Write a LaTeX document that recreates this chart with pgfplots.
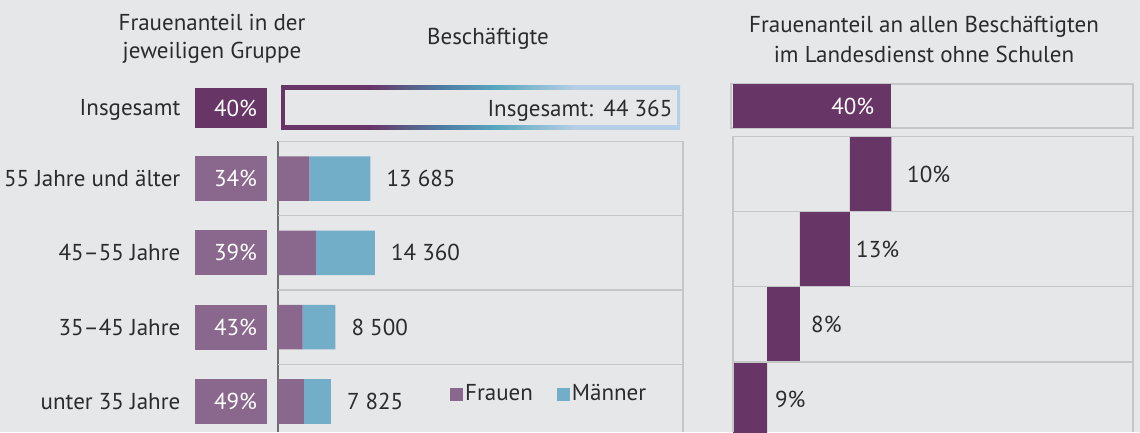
\documentclass[border=0pt]{standalone}
\usepackage{fontspec}
\setmainfont{PT Sans}
\usepackage{pgfplots}
\pgfplotsset{compat=1.18}
\definecolor{bg}{HTML}{E6E7E9}
\definecolor{framegray}{HTML}{C5C6C8}
\definecolor{darkline}{HTML}{6F6F71}
\definecolor{dpurple}{HTML}{683567}
\definecolor{lpurple}{HTML}{8A678C}
\definecolor{mteal}{HTML}{72AEC8}
\definecolor{textc}{HTML}{2B2B2B}
\definecolor{sblue}{HTML}{4C7BA3}
\definecolor{steal}{HTML}{5AA6C0}
\definecolor{slight}{HTML}{B5D0E6}
\pgfdeclarehorizontalshading{insg}{100bp}{color(0bp)=(dpurple); color(36bp)=(dpurple); color(45bp)=(sblue); color(52bp)=(steal); color(62bp)=(slight); color(100bp)=(slight)}
\begin{document}
\fontsize{23}{28}\selectfont\color{textc}%
\begin{tikzpicture}
\path[use as bounding box] (0pt,0pt) rectangle (1140pt,432pt);
\fill[bg] (0pt,0pt) rectangle (1140pt,432pt);
% titles
\node[anchor=base, inner sep=0pt] at (212pt,401pt) {Frauenanteil in der};
\node[anchor=base, inner sep=0pt] at (212pt,373.5pt) {jeweiligen Gruppe};
\node[anchor=base, inner sep=0pt] at (488pt,387pt) {Beschäftigte};
\node[anchor=base, inner sep=0pt] at (924pt,399pt) {Frauenanteil an allen Beschäftigten};
\node[anchor=base, inner sep=0pt] at (924pt,369pt) {im Landesdienst ohne Schulen};
% total box with gradient border
\shade[shading=insg] (281pt,303pt) rectangle (680pt,346pt);
\fill[bg] (284.5pt,306.8pt) rectangle (676.5pt,342.2pt);
\node[anchor=base east, inner sep=0pt] at (672.5pt,316pt) {Insgesamt:\hspace{0.45em}44 365};

% left panel: bars
\begin{axis}[
  at={(278pt,0pt)}, anchor=south west, scale only axis,
  width=405pt, height=363pt,
  xmin=0, xmax=60000, ymin=-0.4105, ymax=4.475,
  axis line style={draw=none}, major tick length=0pt, xtick=\empty,
  ytick={0,1,2,3,3.957},
  yticklabels={unter 35 Jahre, 35–45 Jahre, 45–55 Jahre, 55 Jahre und älter, Insgesamt},
  yticklabel style={anchor=base east, inner sep=0pt, xshift=-97.5pt, yshift=-8pt, text=textc},
  xbar stacked, bar width=0.6, clip=false,
  legend style={draw=none, fill=none, inner sep=0pt, at={(0.4247,0.104)}, anchor=west,
    legend columns=2, /tikz/every even column/.append style={column sep=22pt}, text=textc},
  legend image code/.code={\fill[#1] (0pt,-6.5pt) rectangle (13pt,6.5pt);},
]
\draw[framegray, line width=1.3pt] (axis cs:0,3.5) -- (axis cs:60000,3.5) -- (axis cs:60000,-0.4105);
\draw[framegray, line width=1.3pt] (axis cs:0,2.5) -- (axis cs:60000,2.5);
\draw[framegray, line width=1.3pt] (axis cs:0,1.5) -- (axis cs:60000,1.5);
\draw[framegray, line width=1.3pt] (axis cs:0,0.5) -- (axis cs:60000,0.5);
\addplot[fill=lpurple, draw=none] coordinates {(3834,0) (3655,1) (5600,2) (4653,3)};
\addplot[fill=mteal, draw=none] coordinates {(3991,0) (4845,1) (8760,2) (9032,3)};
\legend{Frauen, Männer}
\node[anchor=west, inner sep=0pt, xshift=16pt] at (axis cs:7825,0) {7 825};
\node[anchor=west, inner sep=0pt, xshift=16pt] at (axis cs:8500,1) {8 500};
\node[anchor=west, inner sep=0pt, xshift=16pt] at (axis cs:14360,2) {14 360};
\node[anchor=west, inner sep=0pt, xshift=16pt] at (axis cs:13685,3) {13 685};
\draw[darkline, line width=1.5pt] (axis cs:0,3.5) -- (axis cs:0,-0.4105);
\end{axis}

% left panel: share boxes
\begin{axis}[
  at={(278pt,0pt)}, anchor=south west, scale only axis,
  width=405pt, height=363pt,
  xmin=0, xmax=60000, ymin=-0.4105, ymax=4.475,
  hide axis, clip=false,
]
\addplot[draw=none, nodes near coords, point meta=explicit symbolic,
  every node near coord/.append style={anchor=center, fill=lpurple, text=white,
    inner xsep=10pt, inner ysep=0pt, text width=52pt, align=right, minimum height=45pt}]
  coordinates {(-6963,0)[49\%] (-6963,1)[43\%] (-6963,2)[39\%] (-6963,3)[34\%]};
\addplot[draw=none, nodes near coords, point meta=explicit symbolic,
  every node near coord/.append style={anchor=center, fill=dpurple, text=white,
    inner xsep=10pt, inner ysep=0pt, text width=52pt, align=right, minimum height=40pt}]
  coordinates {(-6963,3.950)[40\%]};
\end{axis}

% right panel: Insgesamt bar
\begin{axis}[
  at={(731pt,304pt)}, anchor=south west, scale only axis,
  width=402pt, height=44pt,
  xmin=-0.505, xmax=101, ymin=-0.5, ymax=0.5,
  axis line style={framegray, line width=1.3pt}, xtick=\empty, ytick=\empty,
  xbar, bar width=1, clip=false,
]
\addplot[fill=dpurple, draw=none, nodes near coords, point meta=explicit symbolic,
  every node near coord/.append style={anchor=east, inner sep=0pt, xshift=-17pt, text=white}]
  coordinates {(40,0)[40\%]};
\end{axis}

% right panel: floating bars
\begin{axis}[
  at={(733pt,0pt)}, anchor=south west, scale only axis,
  width=400pt, height=348pt,
  xmin=0, xmax=101, ymin=-0.4333, ymax=4.2067,
  hide axis, clip=false,
  xbar stacked, bar width=1,
]
\draw[framegray, line width=1.3pt] (axis cs:0,-0.4333) -- (axis cs:0,3.5) -- (axis cs:101,3.5) -- (axis cs:101,-0.4333);
\draw[framegray, line width=1.3pt] (axis cs:0,2.5) -- (axis cs:101,2.5);
\draw[framegray, line width=1.3pt] (axis cs:0,1.5) -- (axis cs:101,1.5);
\draw[framegray, line width=1.3pt] (axis cs:0,0.5) -- (axis cs:101,0.5);
\addplot[draw=none, fill=none] coordinates {(0,0) (8.6,1) (16.9,2) (29.5,3)};
\addplot[fill=dpurple, draw=none] coordinates {(8.6,0) (8.3,1) (12.6,2) (10.5,3)};
\node[anchor=west, inner sep=0pt] at (axis cs:43.94,3) {10\%};
\node[anchor=west, inner sep=0pt] at (axis cs:31.06,2) {13\%};
\node[anchor=west, inner sep=0pt] at (axis cs:19.7,1) {8\%};
\node[anchor=west, inner sep=0pt] at (axis cs:10.6,0) {9\%};
\end{axis}
\end{tikzpicture}
\end{document}
